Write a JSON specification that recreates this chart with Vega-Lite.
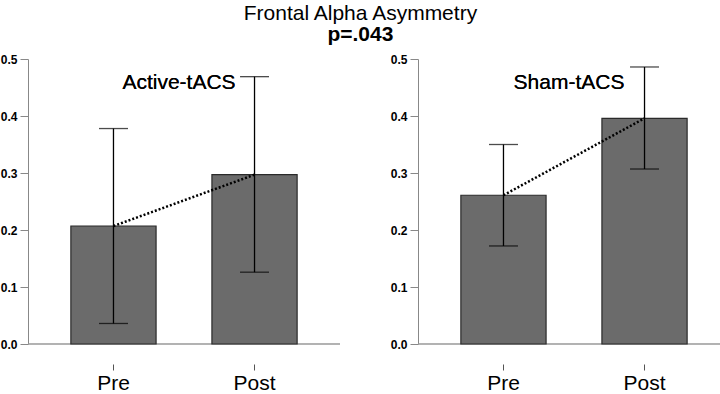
{
  "$schema": "https://vega.github.io/schema/vega-lite/v6.json",
  "padding": {"left": 0, "top": 3, "right": 0, "bottom": 0},
  "background": "white",
  "config": {
    "font": "Liberation Sans",
    "view": {"stroke": null},
    "concat": {"spacing": 49}
  },
  "title": {
    "text": "Frontal Alpha Asymmetry",
    "subtitle": "p=.043",
    "fontSize": 21,
    "fontWeight": "normal",
    "color": "black",
    "subtitleFontSize": 21,
    "subtitleFontWeight": "bold",
    "subtitleColor": "black",
    "subtitlePadding": 0,
    "anchor": "middle",
    "frame": "bounds",
    "offset": 8,
    "dx": -5
  },
  "data": {
    "values": [
      {"group": "Active-tACS", "time": "Pre", "mean": 0.207, "lo": 0.036, "hi": 0.378},
      {"group": "Active-tACS", "time": "Post", "mean": 0.297, "lo": 0.126, "hi": 0.469},
      {"group": "Sham-tACS", "time": "Pre", "mean": 0.261, "lo": 0.172, "hi": 0.350},
      {"group": "Sham-tACS", "time": "Post", "mean": 0.396, "lo": 0.307, "hi": 0.486}
    ]
  },
  "hconcat": [
    {
      "width": 312,
      "height": 285,
      "transform": [{"filter": "datum.group === 'Active-tACS'"}],
      "encoding": {
        "x": {
          "field": "time", "type": "nominal", "sort": ["Pre", "Post"],
          "scale": {"paddingInner": 0.396, "paddingOuter": 0.304},
          "axis": {"title": null, "labelAngle": 0, "labelFontSize": 21, "labelColor": "black", "offset": 20, "domain": false, "tickSize": 6, "tickColor": "#555", "labelPadding": 2}
        }
      },
      "layer": [
        {"mark": {"type": "rule", "color": "#999", "strokeWidth": 1}, "encoding": {"x": null, "y": {"datum": 0, "type": "quantitative", "scale": {"domain": [0, 0.5]}}}},
        {
          "mark": {"type": "bar", "fill": "#6b6b6b", "stroke": "#2a2a2a", "strokeWidth": 1.2},
          "encoding": {
            "y": {"field": "mean", "type": "quantitative", "scale": {"domain": [0, 0.5], "nice": false},
              "axis": {"title": null, "values": [0, 0.1, 0.2, 0.3, 0.4, 0.5], "format": ".1f", "labelFontSize": 12, "labelFontWeight": "bold", "labelColor": "black", "domainColor": "#888", "tickColor": "#888", "tickSize": 8, "labelPadding": 3, "grid": false}}
          }
        },
        {"mark": {"type": "line", "color": "black", "strokeDash": [2, 2], "strokeWidth": 2.5}, "encoding": {"y": {"field": "mean", "type": "quantitative"}}},
        {"mark": {"type": "rule", "color": "black", "strokeWidth": 1.3}, "encoding": {"y": {"field": "lo", "type": "quantitative"}, "y2": {"field": "hi"}}},
        {"mark": {"type": "tick", "color": "black", "size": 29, "thickness": 1.3}, "encoding": {"y": {"field": "hi", "type": "quantitative"}}},
        {"mark": {"type": "tick", "color": "black", "size": 29, "thickness": 1.3}, "encoding": {"y": {"field": "lo", "type": "quantitative"}}},
        {"mark": {"type": "text", "text": "Active-tACS", "fontSize": 21, "color": "black", "dx": -5}, "encoding": {"x": null, "y": {"datum": 0.458, "type": "quantitative"}}}
      ]
    },
    {
      "width": 312,
      "height": 285,
      "transform": [{"filter": "datum.group === 'Sham-tACS'"}],
      "encoding": {
        "x": {
          "field": "time", "type": "nominal", "sort": ["Pre", "Post"],
          "scale": {"paddingInner": 0.396, "paddingOuter": 0.304},
          "axis": {"title": null, "labelAngle": 0, "labelFontSize": 21, "labelColor": "black", "offset": 20, "domain": false, "tickSize": 6, "tickColor": "#555", "labelPadding": 2}
        }
      },
      "layer": [
        {"mark": {"type": "rule", "color": "#999", "strokeWidth": 1}, "encoding": {"x": null, "y": {"datum": 0, "type": "quantitative", "scale": {"domain": [0, 0.5]}}}},
        {
          "mark": {"type": "bar", "fill": "#6b6b6b", "stroke": "#2a2a2a", "strokeWidth": 1.2},
          "encoding": {
            "y": {"field": "mean", "type": "quantitative", "scale": {"domain": [0, 0.5], "nice": false},
              "axis": {"title": null, "values": [0, 0.1, 0.2, 0.3, 0.4, 0.5], "format": ".1f", "labelFontSize": 12, "labelFontWeight": "bold", "labelColor": "black", "domainColor": "#888", "tickColor": "#888", "tickSize": 8, "labelPadding": 3, "grid": false}}
          }
        },
        {"mark": {"type": "line", "color": "black", "strokeDash": [2, 2], "strokeWidth": 2.5}, "encoding": {"y": {"field": "mean", "type": "quantitative"}}},
        {"mark": {"type": "rule", "color": "black", "strokeWidth": 1.3}, "encoding": {"y": {"field": "lo", "type": "quantitative"}, "y2": {"field": "hi"}}},
        {"mark": {"type": "tick", "color": "black", "size": 29, "thickness": 1.3}, "encoding": {"y": {"field": "hi", "type": "quantitative"}}},
        {"mark": {"type": "tick", "color": "black", "size": 29, "thickness": 1.3}, "encoding": {"y": {"field": "lo", "type": "quantitative"}}},
        {"mark": {"type": "text", "text": "Sham-tACS", "fontSize": 21, "color": "black", "dx": -5}, "encoding": {"x": null, "y": {"datum": 0.458, "type": "quantitative"}}}
      ]
    }
  ]
}
